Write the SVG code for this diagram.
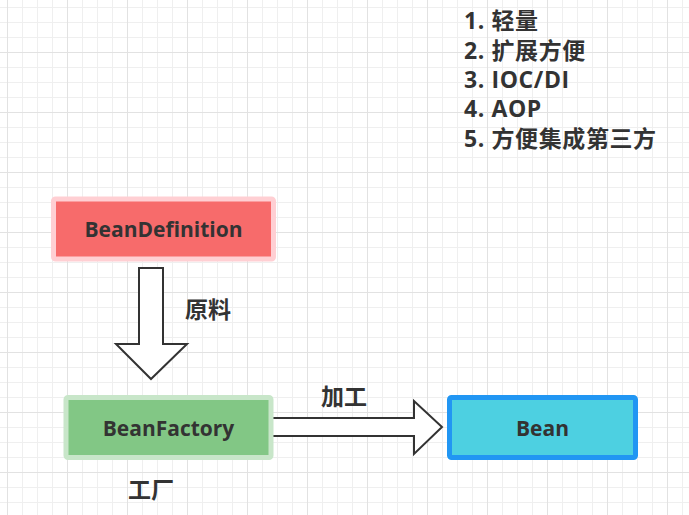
<svg xmlns="http://www.w3.org/2000/svg" width="689" height="515" viewBox="0 0 689 515">
<defs>
<pattern id="minor" width="15" height="15" patternUnits="userSpaceOnUse" x="7" y="7">
<path d="M0 0.5H15M0.5 0V15" fill="none" stroke="#efefef" stroke-width="1"/>
</pattern>
<pattern id="major" width="60" height="60" patternUnits="userSpaceOnUse" x="7" y="52">
<path d="M0 0.5H60M0.5 0V60" fill="none" stroke="#e2e2e2" stroke-width="1"/>
</pattern>
</defs>
<style>
text{font-family:"Open Sans","Noto Sans CJK SC",sans-serif;font-weight:bold;fill:#333333;}
.lbl{font-size:21px;text-anchor:middle;dominant-baseline:central;}
.cjk{font-size:23px;text-anchor:middle;dominant-baseline:central;}
.list{font-size:23px;letter-spacing:0.6px;}
.arrow{fill:#ffffff;stroke:#333333;stroke-width:2;stroke-linejoin:miter;}
</style>
<rect width="689" height="515" fill="#ffffff"/>
<rect width="689" height="515" fill="url(#minor)"/>
<rect width="689" height="515" fill="url(#major)"/>

<g id="features">
<text class="list" x="464" y="29">1. 轻量</text>
<text class="list" x="464" y="59">2. 扩展方便</text>
<text class="list" x="464" y="88">3. IOC/DI</text>
<text class="list" x="464" y="117">4. AOP</text>
<text class="list" x="464" y="147">5. 方便集成第三方</text>
</g>

<g id="connectors">
<path class="arrow" d="M139 268H163V344H187L151 379L116 344H139Z"/>
<path class="arrow" d="M272 418H414V401L442 427L414 454V436H272Z"/>
<text class="cjk" x="208" y="309">原料</text>
<text class="cjk" x="344" y="396">加工</text>
</g>

<g id="beanDefinition">
<rect x="53.5" y="199" width="220" height="60" rx="2" fill="#f76b6b" stroke="#ffcfd3" stroke-width="5"/>
<text class="lbl" x="163.5" y="229">BeanDefinition</text>
</g>

<g id="beanFactory">
<rect x="66" y="397.5" width="205" height="60" rx="2" fill="#82c785" stroke="#c8e6c9" stroke-width="5"/>
<text class="lbl" x="168.5" y="427.5">BeanFactory</text>
<text class="cjk" x="151" y="489">工厂</text>
</g>

<g id="bean">
<rect x="449.5" y="397.5" width="186" height="60" rx="2" fill="#4dd0e1" stroke="#2196f3" stroke-width="5"/>
<text class="lbl" x="542.5" y="427.5">Bean</text>
</g>
</svg>
